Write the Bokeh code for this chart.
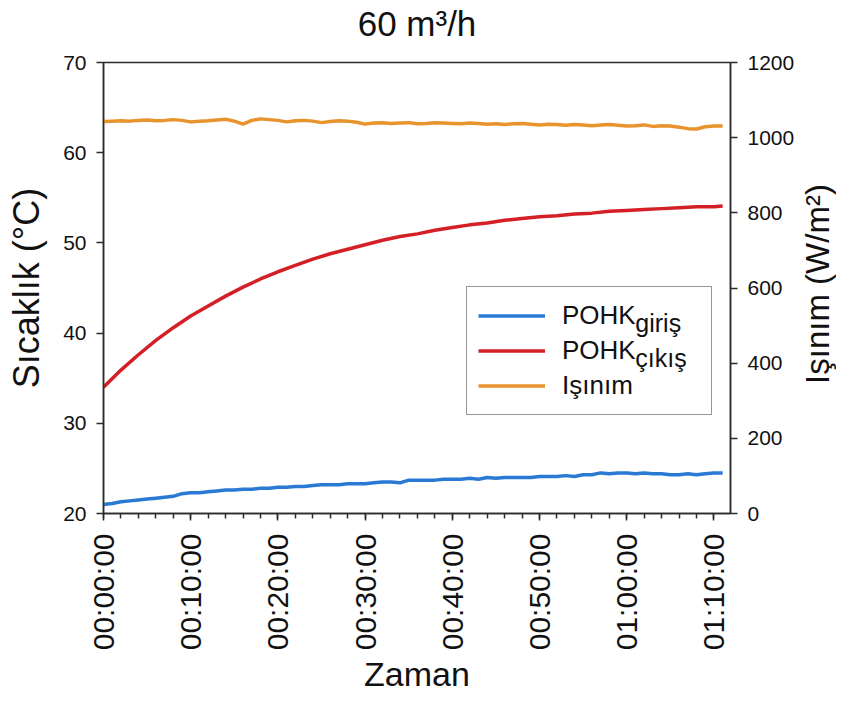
import math
from bokeh.plotting import figure
from bokeh.layouts import row
from bokeh.models import Range1d, LinearAxis, FixedTicker, Legend, LegendItem, Label
from bokeh.embed import file_html
from bokeh.resources import INLINE

# ---------------- data ----------------
minutes = [0, 1, 2, 3, 4, 5, 6, 7, 8, 9, 10, 11, 12, 13, 14, 15, 16, 17, 18, 19,
           20, 21, 22, 23, 24, 25, 26, 27, 28, 29, 30, 31, 32, 33, 34, 35, 36, 37, 38, 39,
           40, 41, 42, 43, 44, 45, 46, 47, 48, 49, 50, 51, 52, 53, 54, 55, 56, 57, 58, 59,
           60, 61, 62, 63, 64, 65, 66, 67, 68, 69, 70, 71]

pohk_giris = [21.0, 21.1, 21.3, 21.4, 21.5, 21.6, 21.7, 21.8, 21.9, 22.2,
              22.3, 22.3, 22.4, 22.5, 22.6, 22.6, 22.7, 22.7, 22.8, 22.8,
              22.9, 22.9, 23.0, 23.0, 23.1, 23.2, 23.2, 23.2, 23.3, 23.3,
              23.3, 23.4, 23.5, 23.5, 23.4, 23.7, 23.7, 23.7, 23.7, 23.8,
              23.8, 23.8, 23.9, 23.8, 24.0, 23.9, 24.0, 24.0, 24.0, 24.0,
              24.1, 24.1, 24.1, 24.2, 24.1, 24.3, 24.3, 24.5, 24.4, 24.5,
              24.5, 24.4, 24.5, 24.4, 24.4, 24.3, 24.3, 24.4, 24.3, 24.4,
              24.5, 24.5]

isinim = [1043, 1044, 1045, 1044, 1046, 1047, 1045, 1046, 1048, 1046,
          1042, 1044, 1045, 1047, 1049, 1044, 1036, 1046, 1050, 1048,
          1046, 1042, 1045, 1046, 1044, 1040, 1043, 1045, 1044, 1041,
          1036, 1039, 1040, 1038, 1039, 1040, 1037, 1038, 1040, 1039,
          1038, 1037, 1039, 1038, 1036, 1037, 1035, 1037, 1038, 1036,
          1034, 1036, 1035, 1033, 1035, 1034, 1032, 1034, 1035, 1033,
          1031, 1032, 1034, 1030, 1032, 1031, 1028, 1024, 1023, 1029,
          1031, 1031]

minutes_cikis = [0, 2, 4, 6, 8, 10, 12, 14, 16, 18, 20, 22, 24, 26, 28, 30, 32, 34,
                 36, 38, 40, 42, 44, 46, 48, 50, 52, 54, 56, 58, 60, 62, 64, 66, 68, 70, 71]
pohk_cikis = [34.0, 35.9, 37.6, 39.2, 40.6, 41.9, 43.0, 44.1, 45.1, 46.0, 46.8, 47.5,
              48.2, 48.8, 49.3, 49.8, 50.3, 50.7, 51.0, 51.4, 51.7, 52.0, 52.2, 52.5,
              52.7, 52.9, 53.0, 53.2, 53.3, 53.5, 53.6, 53.7, 53.8, 53.9, 54.0, 54.0, 54.1]

x_ticks = [0, 10, 20, 30, 40, 50, 60, 70]
x_tick_labels = ["00:00:00", "00:10:00", "00:20:00", "00:30:00",
                 "00:40:00", "00:50:00", "01:00:00", "01:10:00"]
x_minor_ticks = [0, 2, 4, 6, 8, 10, 12, 14, 16, 18, 20, 22, 24, 26, 28, 30, 32, 34,
                 36, 38, 40, 42, 44, 46, 48, 50, 52, 54, 56, 58, 60, 62, 64, 66, 68, 70]
left_ticks = [20, 30, 40, 50, 60, 70]
right_ticks = [0, 200, 400, 600, 800, 1000, 1200]

title_text = "60 m³/h"
x_title = "Zaman"
y_title = "Sıcaklık (°C)"
y2_title = "Işınım (W/m²)"
series_names = ["POHK", "POHK", "Işınım"]
series_subs = ["giriş", "çıkış"]

# ---------------- layout / style ----------------
FONT = "Liberation Sans"
AX = "#2b2b2b"
TXT = "#111111"
BLUE = "#2a7ad4"
RED = "#d41f26"
ORANGE = "#e8932c"

TOTAL_W, H = 836, 697
SIDE_W = 39                      # narrow strip holding the right-hand title
W = TOTAL_W - SIDE_W
BL, BT = 103, 61
BR, BB = W - 731, H - 513
FW, FH = W - BL - BR, H - BT - BB
X0, X1 = 0, 71.9
Y0, Y1 = 20, 70

def dx(px):   # frame-relative pixel -> x data
    return X0 + px * (X1 - X0) / FW

def dy(px):   # frame-relative pixel (up from bottom) -> left-y data
    return Y0 + px * (Y1 - Y0) / FH

p = figure(width=W, height=H, output_backend="svg", toolbar_location=None,
           title=None,
           x_range=Range1d(X0, X1), y_range=Range1d(Y0, Y1),
           min_border_left=BL, min_border_right=BR, min_border_top=BT,
           min_border_bottom=BB)
p.extra_y_ranges = {"rad": Range1d(0, 1200)}

p.xgrid.visible = False
p.ygrid.visible = False
p.outline_line_color = AX
p.outline_line_width = 1.5
p.background_fill_color = "white"
p.border_fill_color = "white"

def style_axis(ax, label_size="21px"):
    ax.axis_line_color = AX
    ax.axis_line_width = 1.5
    ax.major_tick_line_color = AX
    ax.major_tick_line_width = 1.5
    ax.minor_tick_line_color = AX
    ax.minor_tick_line_width = 1.5
    ax.major_tick_in = 0
    ax.major_tick_out = 7
    ax.minor_tick_in = 0
    ax.minor_tick_out = 5
    ax.major_label_text_font = FONT
    ax.major_label_text_font_size = label_size
    ax.major_label_text_color = TXT
    ax.axis_label_text_font = FONT
    ax.axis_label_text_font_size = "35px"
    ax.axis_label_text_font_style = "normal"
    ax.axis_label_text_color = TXT

xa = p.xaxis[0]
style_axis(xa, "30px")
xa.ticker = FixedTicker(ticks=x_ticks, minor_ticks=x_minor_ticks)
xa.major_label_overrides = {t: l for t, l in zip(x_ticks, x_tick_labels)}
xa.major_label_orientation = math.pi / 2
xa.major_label_standoff = 13
xa.axis_label = x_title
xa.axis_label_text_font_size = "34px"
xa.axis_label_standoff = 2

ya = p.yaxis[0]
style_axis(ya)
ya.ticker = FixedTicker(ticks=left_ticks, minor_ticks=[])
ya.major_label_standoff = 10
ya.axis_label = y_title
ya.axis_label_text_font_size = "36px"
ya.axis_label_standoff = 13

ra = LinearAxis(y_range_name="rad")
style_axis(ra)
ra.ticker = FixedTicker(ticks=right_ticks, minor_ticks=[])
ra.major_label_standoff = 10
p.add_layout(ra, "right")

# title carried by a bare axis above the frame
ta = LinearAxis(ticker=FixedTicker(ticks=[], minor_ticks=[]))
ta.axis_line_color = None
ta.major_tick_line_color = None
ta.minor_tick_line_color = None
ta.major_tick_out = 0
ta.minor_tick_out = 0
ta.major_label_text_font_size = "0px"
ta.axis_label = title_text
ta.axis_label_text_font = FONT
ta.axis_label_text_font_size = "35px"
ta.axis_label_text_font_style = "normal"
ta.axis_label_text_color = TXT
ta.axis_label_standoff = 20
p.add_layout(ta, "above")

r_giris = p.line(minutes, pohk_giris, line_color=BLUE, line_width=3.5)
r_cikis = p.line(minutes_cikis, pohk_cikis, line_color=RED, line_width=3.5)
r_isinim = p.line(minutes, isinim, line_color=ORANGE, line_width=3.5, y_range_name="rad")

LEG_X, LEG_Y = 363, 98
LEG_PAD, ROW_H, GLYPH_W, STANDOFF = 11, 35, 67, 17
legend = Legend(
    items=[LegendItem(label=series_names[0], renderers=[r_giris]),
           LegendItem(label=series_names[1], renderers=[r_cikis]),
           LegendItem(label=series_names[2], renderers=[r_isinim])],
    location=(LEG_X, LEG_Y),
    label_text_font=FONT, label_text_font_size="26px", label_text_color=TXT,
    glyph_width=GLYPH_W, glyph_height=ROW_H, label_height=ROW_H, label_width=138,
    label_standoff=STANDOFF, padding=LEG_PAD, spacing=0, margin=0,
    border_line_color=AX, border_line_width=1.5,
    background_fill_color="white", background_fill_alpha=0.0,
)
p.add_layout(legend)

leg_top = LEG_Y + 2 * LEG_PAD + 3 * ROW_H
text_x = LEG_X + LEG_PAD + GLYPH_W + STANDOFF
pohk_w = 2.834 * 26
for i, sub in enumerate(series_subs):
    row_center = leg_top - LEG_PAD - ROW_H * (i + 0.5)
    p.add_layout(Label(x=dx(text_x + pohk_w + 1), y=dy(row_center - 5.5), text=sub,
                       text_font=FONT, text_font_size="25px", text_color=TXT,
                       text_baseline="middle", text_align="left", level="overlay"))

# narrow strip on the right: rotated title reading bottom-to-top
# (its frame is aligned with the main frame: top 61, bottom 513)
p2 = figure(width=SIDE_W, height=H, output_backend="svg", toolbar_location=None,
            title=None, x_range=Range1d(0, 1), y_range=Range1d(0, 1),
            x_axis_type=None, y_axis_type=None,
            min_border_left=0, min_border_right=0, min_border_top=0, min_border_bottom=0)
p2.xgrid.visible = False
p2.ygrid.visible = False
p2.outline_line_color = None
p2.background_fill_color = "white"
p2.border_fill_color = "white"
p2.add_layout(Label(x=0.5, y=1 - (283 - 61) / 452, text=y2_title, angle=math.pi / 2,
                    text_font=FONT, text_font_size="33px", text_color=TXT,
                    text_baseline="middle", text_align="center"))

layout = row(p, p2)
open("out.html", "w").write(file_html(layout, INLINE))
